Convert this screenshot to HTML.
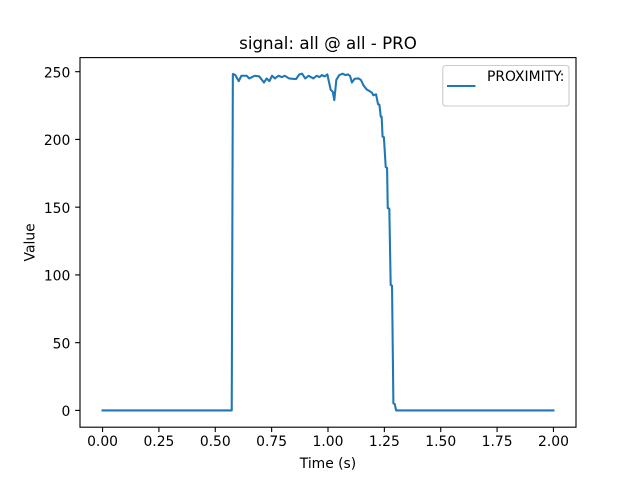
<!DOCTYPE html>
<html lang="en">
<head>
<meta charset="utf-8">
<title>signal: all @ all - PRO</title>
<style>
html,body{margin:0;padding:0;background:#fff;}
svg{display:block;font-family:"DejaVu Sans","Liberation Sans",sans-serif;}
text{fill:#000;font-size:13.89px;}
</style>
</head>
<body>
<svg id="chart" width="640" height="480" viewBox="0 0 640 480" xmlns="http://www.w3.org/2000/svg">
  <rect x="0" y="0" width="640" height="480" fill="#fff"/>
  <rect x="80" y="57.6" width="496" height="369.6" fill="#fff"/>
  <text x="328" y="49" text-anchor="middle" style="font-size:16.67px">signal: all @ all - PRO</text>
  <g id="series-layer"></g>
  <g id="x-axis"></g>
  <g id="y-axis"></g>
  <rect x="80" y="57.6" width="496" height="369.6" fill="none" stroke="#000" stroke-width="1.11"/>
  <text x="328" y="468" text-anchor="middle">Time (s)</text>
  <text transform="translate(34.5 242.4) rotate(-90)" text-anchor="middle">Value</text>
  <g>
    <rect x="442.8" y="65.5" width="126.2" height="40.5" rx="2.8" ry="2.8" fill="#fff" fill-opacity="0.8" stroke="#ccc" stroke-width="1.11"/>
    <line x1="447" y1="86" x2="475.5" y2="86" stroke="#1f77b4" stroke-width="2.08"/>
    <text x="487" y="81">PROXIMITY:</text>
  </g>
</svg>
<script>
const times = [0, 0.573, 0.578, 0.589, 0.604, 0.616, 0.639, 0.651, 0.675, 0.695, 0.716, 0.728, 0.740, 0.752, 0.765, 0.780, 0.796, 0.808, 0.828, 0.858, 0.873, 0.885, 0.899, 0.914, 0.935, 0.950, 0.962, 0.973, 0.985, 0.997, 1.012, 1.021, 1.028, 1.037, 1.050, 1.065, 1.077, 1.089, 1.098, 1.106, 1.118, 1.136, 1.146, 1.157, 1.171, 1.186, 1.195, 1.201, 1.213, 1.222, 1.228, 1.234, 1.238, 1.242, 1.248, 1.256, 1.262, 1.265, 1.272, 1.278, 1.284, 1.290, 1.296, 1.302, 2.0];
const values = [0, 0, 248.3, 247.5, 243, 247, 247, 245, 247, 246.5, 242, 245, 243, 247, 245, 247, 246, 247, 245, 244.5, 248, 248.5, 245, 247, 245, 247, 246, 247.5, 246.5, 248, 236.6, 235.3, 229, 244, 247.5, 248.5, 247.5, 248, 246.8, 242, 244.8, 245, 243.9, 240, 237, 235.5, 234.5, 232.6, 233.3, 226, 225.6, 216.8, 216.8, 202, 201.6, 179.5, 179, 149.2, 149, 92.6, 92, 5.2, 4.7, 0, 0];
const xTicks = [0, 0.25, 0.5, 0.75, 1, 1.25, 1.5, 1.75, 2];
const xTickLabels = ["0.00", "0.25", "0.50", "0.75", "1.00", "1.25", "1.50", "1.75", "2.00"];
const yTicks = [0, 50, 100, 150, 200, 250];
const yTickLabels = ["0", "50", "100", "150", "200", "250"];

const SVG_NS = "http://www.w3.org/2000/svg";
const plotLeft = 80, plotRight = 576, plotTop = 57.6, plotBottom = 427.2;
const xMin = -0.1, xMax = 2.1, yMin = -12.4, yMax = 260.4;
function xScale(t) { return plotLeft + (t - xMin) / (xMax - xMin) * (plotRight - plotLeft); }
function yScale(v) { return plotBottom - (v - yMin) / (yMax - yMin) * (plotBottom - plotTop); }

const seriesLayer = document.getElementById("series-layer");
const seriesLine = document.createElementNS(SVG_NS, "polyline");


seriesLine.setAttribute("points", times.map((t, i) => xScale(t).toFixed(2) + "," + yScale(values[i]).toFixed(2)).join(" "));
seriesLine.setAttribute("fill", "none");
seriesLine.setAttribute("stroke", "#1f77b4");
seriesLine.setAttribute("stroke-width", "2.08");
seriesLine.setAttribute("stroke-linejoin", "round");
seriesLine.setAttribute("stroke-linecap", "square");
seriesLayer.appendChild(seriesLine);

const xAxis = document.getElementById("x-axis");
xTicks.forEach((tick, i) => {
  const mark = document.createElementNS(SVG_NS, "line");
  
  
  mark.setAttribute("x1", xScale(tick));
  mark.setAttribute("x2", xScale(tick));
  mark.setAttribute("y1", plotBottom);
  mark.setAttribute("y2", plotBottom + 4.86);
  mark.setAttribute("stroke", "#000");
  mark.setAttribute("stroke-width", "1.11");
  xAxis.appendChild(mark);
  const label = document.createElementNS(SVG_NS, "text");
  
  
  label.setAttribute("x", xScale(tick));
  label.setAttribute("y", 446);
  label.setAttribute("text-anchor", "middle");
  label.textContent = xTickLabels[i];
  xAxis.appendChild(label);
});

const yAxis = document.getElementById("y-axis");
yTicks.forEach((tick, i) => {
  const mark = document.createElementNS(SVG_NS, "line");
  
  
  mark.setAttribute("x1", plotLeft - 4.86);
  mark.setAttribute("x2", plotLeft);
  mark.setAttribute("y1", yScale(tick));
  mark.setAttribute("y2", yScale(tick));
  mark.setAttribute("stroke", "#000");
  mark.setAttribute("stroke-width", "1.11");
  yAxis.appendChild(mark);
  const label = document.createElementNS(SVG_NS, "text");
  
  
  label.setAttribute("x", plotLeft - 9.7);
  label.setAttribute("y", yScale(tick) + 5.6);
  label.setAttribute("text-anchor", "end");
  label.textContent = yTickLabels[i];
  yAxis.appendChild(label);
});
</script>
</body>
</html>
